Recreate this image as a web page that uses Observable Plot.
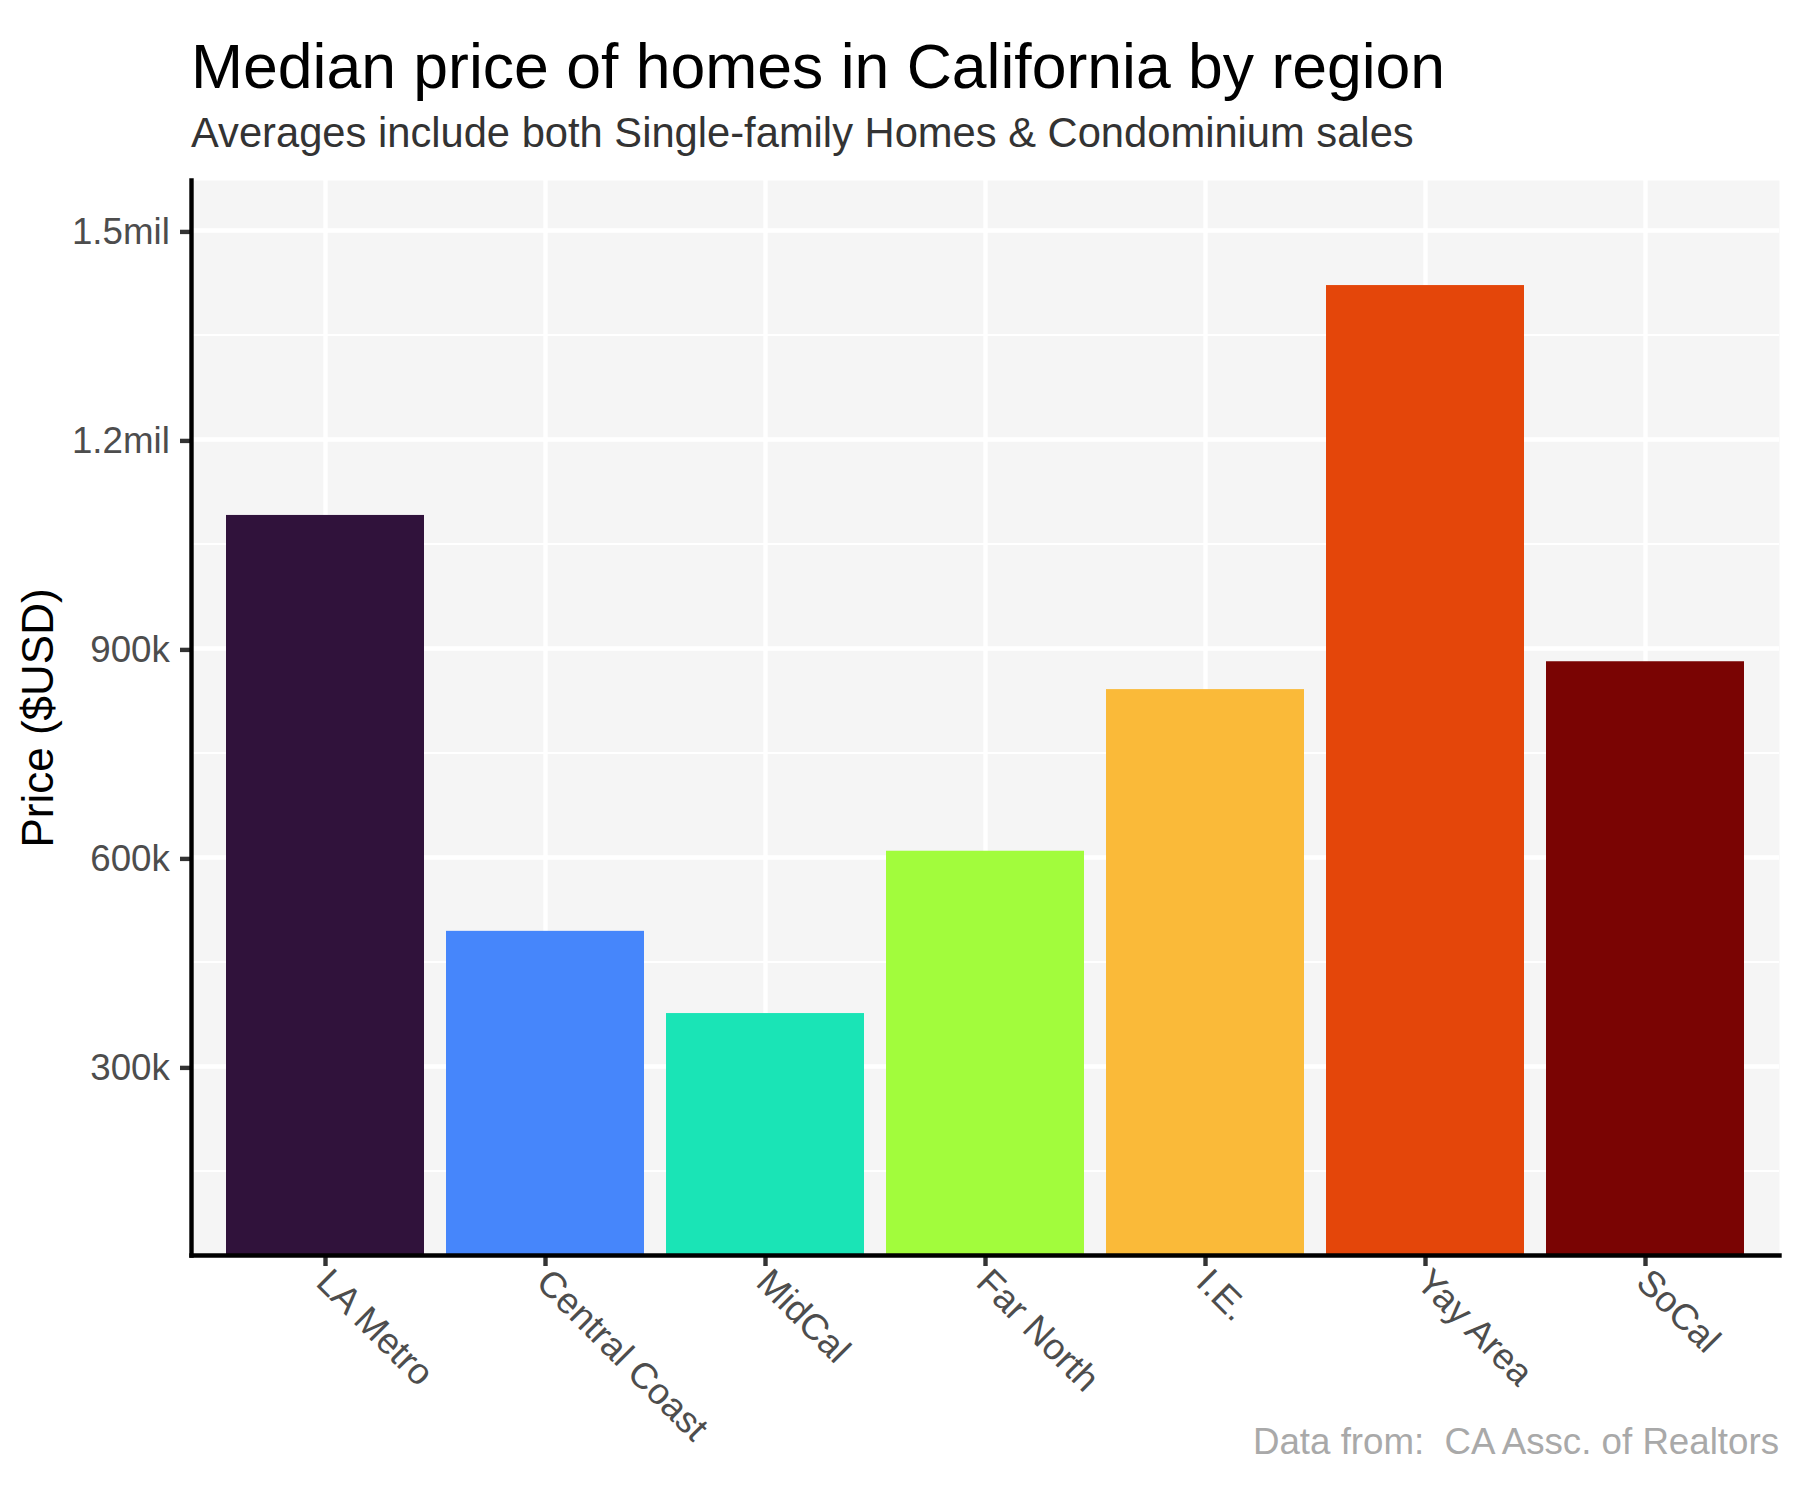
<!DOCTYPE html>
<html>
<head>
<meta charset="utf-8">
<script src="https://cdn.jsdelivr.net/npm/d3@7"></script>
<script src="https://cdn.jsdelivr.net/npm/@observablehq/plot@0.6"></script>
<style>
  html, body { margin: 0; padding: 0; background: #ffffff; }
  body { font-family: "Liberation Sans", Arial, sans-serif; }
  #wrap { width: 1800px; }
  .title { box-sizing: content-box; height: 65px; padding-top: 35px; padding-left: 191px; font-size: 62.5px; line-height: 62.5px; color: #000000; white-space: nowrap; }
  .subtitle { box-sizing: content-box; height: 48.3px; padding-top: 11.7px; padding-left: 191px; font-size: 41.7px; line-height: 41.7px; color: #333333; white-space: nowrap; }
  .caption { margin-top: -1px; padding-right: 21px; text-align: right; font-size: 36.7px; line-height: 36.7px; color: #A9A9A9; white-space: pre; }
  #chart svg { display: block; overflow: visible; }
</style>
</head>
<body>
<div id="wrap">
  <div class="title">Median price of homes in California by region</div>
  <div class="subtitle">Averages include both Single-family Homes &amp; Condominium sales</div>
  <div id="chart"></div>
  <div class="caption">Data from:  CA Assc. of Realtors</div>
</div>
<script>
// ---- data ----
const regions = ["LA Metro", "Central Coast", "MidCal", "Far North", "I.E.", "Yay Area", "SoCal"];
const prices = [1091000, 494000, 376000, 609000, 841000, 1421000, 881000];
const regionColors = ["#30123B", "#4686FB", "#1AE4B6", "#A2FC3C", "#FABA39", "#E4460A", "#7A0403"];
const yMajorTicks = [300000, 600000, 900000, 1200000, 1500000];
const yTickLabels = ["300k", "600k", "900k", "1.2mil", "1.5mil"];
const yMinorTicks = [150000, 450000, 750000, 1050000, 1350000];
const yDomain = [28700, 1571800];
const yTitle = "Price ($USD)";

const data = regions.map((r, i) => ({region: r, price: prices[i]}));

const chart = Plot.plot({
  width: 1800,
  height: 1265,
  marginTop: 20,
  marginBottom: 170,
  marginLeft: 191,
  marginRight: 21,
  style: {fontFamily: "'Liberation Sans', Arial, sans-serif", background: "transparent", overflow: "visible"},
  x: {domain: regions, paddingInner: 0.1, paddingOuter: 0.15, label: null},
  y: {domain: yDomain, label: null},
  color: {domain: regions, range: regionColors},
  marks: [
    Plot.frame({fill: "#F5F5F5", stroke: null}),
    Plot.ruleY(yMinorTicks, {stroke: "#ffffff", strokeWidth: 2.2}),
    Plot.ruleY(yMajorTicks, {stroke: "#ffffff", strokeWidth: 4.4}),
    Plot.ruleX(regions, {stroke: "#ffffff", strokeWidth: 4.4}),
    Plot.barY(data, {x: "region", y: "price", fill: "region", clip: true}),
    // y axis: ticks and labels
    Plot.axisY({
      ticks: yMajorTicks,
      tickFormat: (d) => yTickLabels[yMajorTicks.indexOf(d)],
      tickSize: 11,
      tickPadding: 10.7,
      strokeWidth: 4.4,
      stroke: "#333333",
      fill: "#4D4D4D",
      fontSize: 36.7,
      dy: 1.4,
      label: null
    }),
    // y axis title
    Plot.axisY({
      ticks: [],
      tickSize: 0,
      label: yTitle,
      labelAnchor: "center",
      labelArrow: "none",
      labelOffset: 170,
      fontSize: 44,
      fill: "#000000"
    }),
    // x axis ticks
    Plot.axisX({
      tickSize: 11,
      strokeWidth: 4.4,
      stroke: "#333333",
      fill: "none",
      label: null
    }),
    // x axis rotated labels
    Plot.axisX({
      tickSize: 0,
      stroke: "none",
      tickPadding: 10.3,
      tickRotate: 45,
      textAnchor: "start",
      lineAnchor: "top",
      dx: 7.5,
      fontSize: 36.7,
      fill: "#4D4D4D",
      label: null
    }),
    // axis lines
    Plot.frame({anchor: "left", stroke: "#000000", strokeWidth: 4.4}),
    Plot.frame({anchor: "bottom", stroke: "#000000", strokeWidth: 4.4})
  ]
});
document.getElementById("chart").appendChild(chart);
</script>
</body>
</html>
